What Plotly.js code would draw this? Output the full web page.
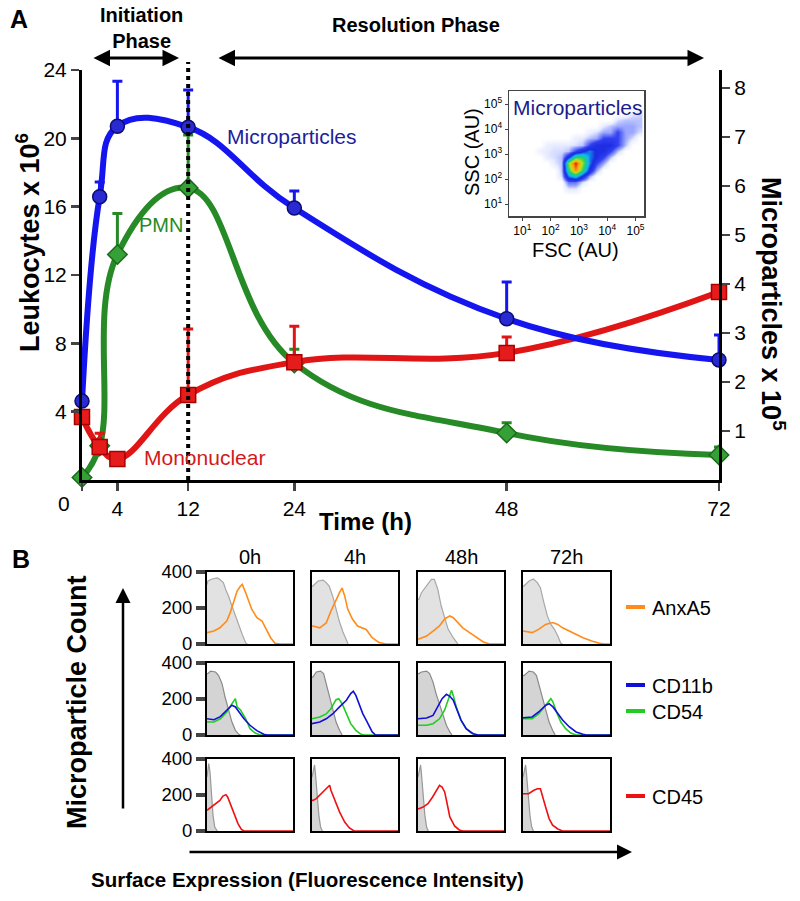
<!DOCTYPE html>
<html><head><meta charset="utf-8">
<script src="https://cdn.plot.ly/plotly-3.0.1.min.js"></script>
<style>body{margin:0;background:#fff}#chart{width:800px;height:901px}</style>
</head><body><div id="chart"></div>
<script>
// ---------- Panel A data ----------
const timeH = [0, 2, 4, 12, 24, 48, 72];
const mpVals = [1.61, 5.78, 7.22, 7.20, 5.55, 3.29, 2.45];   // Microparticles x10^5 (right axis)
const mpErr = [0.88, 0.30, 0.92, 0.76, 0.35, 0.75, 0.51];
const pmnVals = [0.15, 2.0, 13.2, 17.1, 6.85, 2.75, 1.46];   // PMN x10^6 (left axis)
const pmnErr = [0, 0, 2.4, 3.1, 0.8, 0.6, 0.47];
const monoVals = [3.69, 1.93, 1.23, 4.98, 6.90, 7.44, 11.0]; // Mononuclear x10^6
const monoErr = [0.3, 0.8, 0, 3.86, 2.1, 0.93, 0.3];
const xTicks = [0, 4, 12, 24, 48, 72];
const xTickText = ['', '4', '12', '24', '48', '72'];
const leftTicks = [4, 8, 12, 16, 20, 24];
const rightTicks = [1, 2, 3, 4, 5, 6, 7, 8];

// ---------- Inset (FSC/SSC density, log10 bins) ----------
const fscBins = [1.375,1.625,1.875,2.125,2.375,2.625,2.875,3.125,3.375,3.625,3.875,4.125,4.375,4.625,4.875,5.125];
const sscBins = [1.375,1.625,1.875,2.125,2.375,2.625,2.875,3.125,3.375,3.625,3.875,4.125,4.375,4.625,4.875];
const density = [
 [0,0,0,0,0,0,0,0,0,0,0,0,0,0,0,0],
 [0,0,0,0,0,0.6,0.6,0,0,0,0,0,0,0,0,0],
 [0,0,0,0,0,1.5,1.5,0.6,0,0,0,0,0,0,0,0],
 [0,0,0,0,0.6,4,5,3,1,0,0,0,0,0,0,0],
 [0,0,0,0,0.8,6,9,6,3,1,0,0,0,0,0,0],
 [0,0,0,0.5,0.8,7,10,7,4,2,1,0,0,0,0,0],
 [0,0,0.5,0.6,0.8,3,6,6,4,3,2,0.8,0,0,0,0],
 [0,0.4,0.5,0.6,0.6,0.8,2,3,4,3,3,2,0.8,0,0,0],
 [0,0,0.4,0.5,0.5,0.5,0.6,0.8,2,3,3,3,2,0.8,0,0],
 [0,0,0,0,0,0,0.4,0.5,0.8,1,2,2,2,1,0.6,0],
 [0,0,0,0,0,0,0,0,0.4,0.6,1,1,2,1,1,0.6],
 [0,0,0,0,0,0,0,0,0,0,0.5,0.8,1,1,1,0.8],
 [0,0,0,0,0,0,0,0,0,0,0,0,0.6,0.8,0.8,0.8],
 [0,0,0,0,0,0,0,0,0,0,0,0,0,0,0.5,0.6],
 [0,0,0,0,0,0,0,0,0,0,0,0,0,0,0,0]
];
const logTicks = [1, 2, 3, 4, 5];

// ---------- Panel B data: [fluorescence (0-100), count] ----------
const timepoints = ['0h', '4h', '48h', '72h'];
const iso_anx_0h = [[0,330],[1,350],[6,361],[12,367],[15,358],[19,341],[22,300],[25,267],[29,211],[33,156],[37,100],[41,53],[45,6],[47,0]];
const anx_0h = [[0,63],[8,72],[15,90],[23,128],[27,174],[31,239],[35,294],[39,322],[41,331],[45,285],[48,248],[52,193],[58,146],[64,128],[68,90],[74,35],[79,4],[85,0],[100,0]];
const iso_anx_4h = [[0,322],[1,322],[7,350],[13,355],[16.5,341],[20,322],[24,267],[28,194],[32,122],[36,67],[40,22],[42,0]];
const anx_4h = [[0,100],[1,100],[9,90],[16.5,117],[22,183],[28,248],[32,285],[35,311],[38,267],[41.5,194],[47,139],[53,100],[59,90],[63,81],[70,35],[78,8],[86,0],[100,0]];
const iso_anx_48h = [[0,248],[1,248],[4,285],[10,322],[15.5,359],[19,359],[23,304],[27,211],[31,139],[35,83],[41,35],[45,4],[46.5,0]];
const anx_48h = [[0,26],[10,44],[17.5,72],[25,100],[31,139],[37,156],[41,146],[46.5,119],[52,90],[60,63],[68,35],[76,11],[83,0],[100,0]];
const iso_anx_72h = [[0,322],[1,322],[7,350],[12,361],[16.5,341],[20,313],[24,230],[28,156],[32,109],[36,83],[40,44],[43.5,4],[45.5,0]];
const anx_72h = [[0,72],[10.5,63],[18,81],[26,109],[34,119],[40,109],[45.5,90],[53,72],[61,54],[69,35],[79,17],[88,4],[94,0],[100,0]];

const iso_cd_0h = [[0,341],[1,341],[4,355],[10,350],[13.5,330],[17.5,285],[21,211],[25,139],[29,72],[33,26],[37,4],[39,0]];
const cd54_0h = [[0,72],[8,72],[15.5,90],[23,128],[29,174],[33,202],[35,156],[39,139],[45,90],[50,35],[56,11],[62,0],[100,0]];
const cd11b_0h = [[0,90],[8,85],[15.5,102],[23,137],[29,165],[33,156],[37,128],[43,90],[50,54],[58,24],[66,4],[70,0],[100,0]];
const iso_cd_4h = [[0,322],[1,322],[5,350],[10,355],[13.5,341],[16.5,285],[20,230],[24,139],[28,72],[32,26],[35,0]];
const cd54_4h = [[0,90],[9,100],[16.5,117],[22,146],[28,196],[31,202],[35,174],[40,117],[45,63],[51,26],[57,4],[61,0],[100,0]];
const cd11b_4h = [[0,63],[9,72],[16.5,90],[24,117],[32,156],[40,193],[45,230],[48,243],[51,220],[55,165],[59,119],[63,83],[67,46],[70,17],[74,0],[100,0]];
const iso_cd_48h = [[0,341],[1,341],[4,350],[10,355],[13.5,341],[17.5,294],[21,230],[25,174],[29,109],[33,54],[37,17],[39.5,0]];
const cd54_48h = [[0,54],[10,54],[17.5,63],[25,90],[31,139],[36,202],[39,248],[41,220],[44.5,156],[50,83],[56,35],[62,11],[68,0],[100,0]];
const cd11b_48h = [[0,90],[10,94],[17.5,109],[23,156],[28,202],[33,226],[37,215],[41,193],[44.5,146],[50,83],[56,35],[64,7],[70,0],[100,0]];
const iso_cd_72h = [[0,330],[1,330],[7,355],[12,350],[15.5,330],[18,285],[22,211],[26,139],[30,72],[34,26],[37,0]];
const cd54_72h = [[0,90],[10.5,90],[18,117],[26,165],[32,202],[34.5,183],[38.5,128],[43.5,72],[49,35],[55,11],[61,0],[100,0]];
const cd11b_72h = [[0,96],[10.5,100],[18,128],[26,165],[30,174],[34.5,156],[40,119],[45.5,83],[53,46],[61,17],[69,4],[73,0],[100,0]];

const iso_cd45_0h = [[0,300],[0.5,328],[2,374],[3.5,328],[5,198],[7,87],[9,22],[11,2],[12,0]];
const cd45_0h = [[0,115],[5,133],[11,152],[15,170],[18.5,194],[22,202],[24,189],[28,143],[32,87],[36,41],[40,9],[43,0],[100,0]];
const iso_cd45_4h = [[0,300],[1,328],[3,367],[4,319],[6,198],[8,87],[10,22],[12,0]];
const cd45_4h = [[0,170],[1,170],[5,180],[9,198],[12.5,217],[16.5,235],[20.5,254],[22,226],[26,180],[32,106],[38,50],[43.5,17],[49,0],[100,0]];
const iso_cd45_48h = [[0,300],[1,328],[3,367],[4,319],[6,198],[8,87],[10,22],[12,0]];
const cd45_48h = [[0,124],[1,124],[6,133],[11.5,152],[17,189],[22,235],[25,254],[28,244],[31,217],[33.5,161],[37,78],[42.5,28],[48,6],[52,0],[100,0]];
const iso_cd45_72h = [[0,300],[1,328],[3,367],[4,319],[6,198],[8,87],[10,22],[12,0]];
const cd45_72h = [[0,207],[1,207],[6.5,207],[12.5,226],[16.5,235],[20,235],[22,198],[26,133],[30,69],[34,32],[40,11],[45.5,0],[100,0]];

// ---------- helpers ----------
const W = 800, H = 901;
const FONT = 'Liberation Sans, Arial, Helvetica, sans-serif';
const px = v => v / W;
const py = v => 1 - v / H;
const zeros = a => a.map(() => 0);

const COL = {blueA:'#1515f0', greenA:'#268a26', redA:'#e01616',
  orange:'#ff8c1a', blueB:'#1010d8', greenB:'#22cc22', redB:'#ee1111'};

const traces = [];
const layout = {
  width: W, height: H, margin: {l:0, r:0, t:0, b:0},
  paper_bgcolor: '#fff', plot_bgcolor: 'rgba(0,0,0,0)', showlegend: false,
  font: {family: FONT, color: '#000'},
  annotations: [], shapes: []
};

// ---------- Panel A axes ----------
const tickFontA = {size:21, family:FONT, color:'#000'};
layout.xaxis = {domain:[px(82), px(719)], range:[0,72], anchor:'y',
  tickvals:xTicks, ticktext:xTickText, ticks:'outside', ticklen:8, tickwidth:2.5,
  showline:true, linewidth:3, linecolor:'#000', showgrid:false, zeroline:false, tickfont:tickFontA};
layout.yaxis = {domain:[py(480), py(70)], range:[0,24], anchor:'x',
  tickvals:leftTicks, ticks:'outside', ticklen:8, tickwidth:2.5,
  showline:true, linewidth:3, linecolor:'#000', showgrid:false, zeroline:false, tickfont:tickFontA};
layout.yaxis2 = {domain:[py(480), py(70)], range:[0, 410/49], overlaying:'y', side:'right', anchor:'x',
  tickvals:rightTicks, ticks:'outside', ticklen:8, tickwidth:2.5,
  showline:true, linewidth:3, linecolor:'#000', showgrid:false, zeroline:false, tickfont:tickFontA};

function seriesA(y, err, yaxis, color, symbol, msize, mfill, mline) {
  return {x: timeH, y: y, xaxis:'x', yaxis: yaxis, type:'scatter', mode:'lines+markers',
    cliponaxis:false,
    line:{color: color, width:6, shape:'spline', smoothing:1.2},
    marker:{symbol: symbol, size: msize, color: mfill, line:{color: mline, width:1.5}},
    error_y:{type:'data', symmetric:false, array: err, arrayminus: zeros(err),
      color: color, thickness:3, width:5}};
}
traces.push(seriesA(pmnVals, pmnErr, 'y', COL.greenA, 'diamond', 15, '#35a035', '#1c6a1c'));
traces.push(seriesA(monoVals, monoErr, 'y', COL.redA, 'square', 15, '#e61c1c', '#a80000'));
traces.push(seriesA(mpVals, mpErr, 'y2', COL.blueA, 'circle', 14, '#2a2ad2', '#0c0c70'));

// dotted line at 12 h
layout.shapes.push({type:'line', xref:'x', yref:'paper', x0:12, x1:12, y0:py(480), y1:py(62),
  line:{color:'#000', width:4, dash:'dot'}});

function ann(text, x, y, size, opts) {
  layout.annotations.push(Object.assign({text: text, xref:'paper', yref:'paper', x: px(x), y: py(y),
    showarrow:false, xanchor:'center', yanchor:'middle', font:{size: size, family: FONT, color:'#000'}}, opts || {}));
}
ann('<b>A</b>', 19, 19, 25);
ann('<b>Initiation<br>Phase</b>', 141, 28, 20);
ann('<b>Resolution Phase</b>', 416, 25, 20);
// phase arrows
layout.annotations.push({xref:'paper', yref:'paper', x:px(179), y:py(58), ax:-87, ay:0, text:'',
  showarrow:true, arrowhead:2, arrowside:'end+start', arrowsize:1.1, arrowwidth:3, arrowcolor:'#000'});
layout.annotations.push({xref:'paper', yref:'paper', x:px(704), y:py(58), ax:-487, ay:0, text:'',
  showarrow:true, arrowhead:2, arrowside:'end+start', arrowsize:1.1, arrowwidth:3, arrowcolor:'#000'});

ann('0', 64, 503, 21);
ann('<b>Time (h)</b>', 365, 521, 24);
ann('<b>Leukocytes x 10<sup>6</sup></b>', 28, 243, 27, {textangle:-90});
ann('<b>Microparticles x 10<sup>5</sup></b>', 773, 304, 27, {textangle:90});
ann('Microparticles', 292, 137, 21, {font:{size:21, family:FONT, color:'#1e1e9a'}});
ann('PMN', 161, 225, 20, {font:{size:20, family:FONT, color:COL.greenA}});
ann('Mononuclear', 204, 457, 21, {font:{size:21, family:FONT, color:'#d21a1a'}});

// ---------- Inset ----------
const insetTickFont = {size:12, family:FONT, color:'#000'};
layout.xaxis2 = {domain:[px(509), px(644)], range:[0.53, 5.3], anchor:'y3',
  tickvals:logTicks, ticktext:logTicks.map(t => '10<sup>' + t + '</sup>'),
  ticks:'outside', ticklen:3, tickwidth:1, tickfont:insetTickFont,
  showline:true, mirror:true, linewidth:1.5, linecolor:'#444', showgrid:false, zeroline:false};
layout.yaxis3 = {domain:[py(216), py(91)], range:[0.52, 5.52], anchor:'x2',
  tickvals:logTicks, ticktext:logTicks.map(t => '10<sup>' + t + '</sup>'),
  ticks:'outside', ticklen:3, tickwidth:1, tickfont:insetTickFont,
  showline:true, mirror:true, linewidth:1.5, linecolor:'#444', showgrid:false, zeroline:false};
traces.push({type:'heatmap', x: fscBins, y: sscBins, z: density, zsmooth:'best',
  xaxis:'x2', yaxis:'y3', showscale:false, zmin:0, zmax:10, hoverinfo:'skip',
  colorscale:[[0,'#ffffff'],[0.05,'#e6ebff'],[0.1,'#9aa6ff'],[0.2,'#3040f0'],[0.32,'#1a2ae0'],
              [0.45,'#10b8f0'],[0.6,'#22d070'],[0.74,'#c8e010'],[0.87,'#ffa010'],[1,'#e02010']]});
ann('Microparticles', 578, 107, 21, {font:{size:21, family:FONT, color:'#1c1c8c'}});
ann('SSC (AU)', 472, 152, 20, {textangle:-90});
ann('FSC (AU)', 575, 250, 20);

// ---------- Panel B ----------
const colX = [[207,293],[312,398],[418,504],[523,610]];
const rowY = [[572,644],[663,735],[759,831]];
const rowsData = [
  {iso:[iso_anx_0h, iso_anx_4h, iso_anx_48h, iso_anx_72h], isoFill:'#e2e2e2', isoLine:'#a8a8a8',
   lines:[{d:[anx_0h, anx_4h, anx_48h, anx_72h], c:COL.orange}]},
  {iso:[iso_cd_0h, iso_cd_4h, iso_cd_48h, iso_cd_72h], isoFill:'#d4d4d4', isoLine:'#8a8a8a',
   lines:[{d:[cd54_0h, cd54_4h, cd54_48h, cd54_72h], c:COL.greenB},
          {d:[cd11b_0h, cd11b_4h, cd11b_48h, cd11b_72h], c:COL.blueB}]},
  {iso:[iso_cd45_0h, iso_cd45_4h, iso_cd45_48h, iso_cd45_72h], isoFill:'#d6d6d6', isoLine:'#999999',
   lines:[{d:[cd45_0h, cd45_4h, cd45_48h, cd45_72h], c:COL.redB}]}
];
rowsData.forEach((row, r) => {
  for (let c = 0; c < 4; c++) {
    const k = r * 4 + c;
    const xa = 'x' + (3 + k), ya = 'y' + (4 + k);
    layout['xaxis' + (3 + k)] = {domain:[px(colX[c][0]), px(colX[c][1])], range:[0,100], anchor: ya,
      showticklabels:false, ticks:'', showline:true, mirror:true, linewidth:2, linecolor:'#000',
      showgrid:false, zeroline:false};
    layout['yaxis' + (4 + k)] = {domain:[py(rowY[r][1]), py(rowY[r][0])], range:[0,400], anchor: xa,
      tickvals:[0,200,400], showticklabels: c === 0, ticks: c === 0 ? 'outside' : '',
      ticklen:9, tickwidth:3.5, tickfont:{size:18.5, family:FONT, color:'#000'},
      showline:true, mirror:true, linewidth:2, linecolor:'#000', showgrid:false, zeroline:false};
    const iso = row.iso[c];
    traces.push({type:'scatter', mode:'lines', x: iso.map(p => p[0]), y: iso.map(p => p[1]),
      xaxis: xa, yaxis: ya, fill:'tozeroy', fillcolor: row.isoFill,
      line:{color: row.isoLine, width:1.2}, hoverinfo:'skip'});
    row.lines.forEach(L => {
      const d = L.d[c];
      traces.push({type:'scatter', mode:'lines', x: d.map(p => p[0]), y: d.map(p => p[1]),
        xaxis: xa, yaxis: ya, line:{color: L.c, width:1.6}, hoverinfo:'skip'});
    });
  }
});
timepoints.forEach((t, c) => ann(t, (colX[c][0] + colX[c][1]) / 2, 557, 20));
ann('<b>B</b>', 21, 559, 25);
ann('<b>Microparticle Count</b>', 77, 702, 27, {textangle:-90});
ann('<b>Surface Expression (Fluorescence Intensity)</b>', 307, 879, 20.5);
layout.annotations.push({xref:'paper', yref:'paper', x:px(123), y:py(588), ax:0, ay:222, text:'',
  showarrow:true, arrowhead:2, arrowsize:1.2, arrowwidth:2.5, arrowcolor:'#000'});
layout.annotations.push({xref:'paper', yref:'paper', x:px(632), y:py(852), ax:-444, ay:0, text:'',
  showarrow:true, arrowhead:2, arrowsize:1.2, arrowwidth:2.5, arrowcolor:'#000'});

// legend for panel B
const legendB = [['AnxA5', COL.orange, 607], ['CD11b', COL.blueB, 685], ['CD54', COL.greenB, 711], ['CD45', COL.redB, 796]];
legendB.forEach(([name, color, y]) => {
  layout.shapes.push({type:'line', xref:'paper', yref:'paper', x0:px(626), x1:px(645), y0:py(y), y1:py(y),
    line:{color: color, width:4}});
  ann(name, 650, y + 1, 20, {xanchor:'left'});
});

Plotly.newPlot('chart', traces, layout, {displayModeBar:false, staticPlot:true});
</script>
</body></html>
